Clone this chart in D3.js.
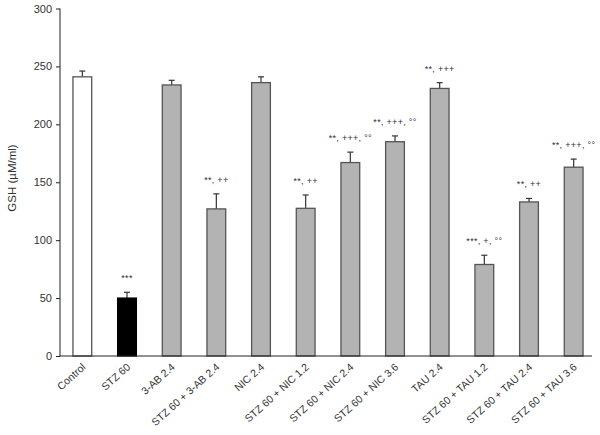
<!DOCTYPE html>
<html>
<head>
<meta charset="utf-8">
<script src="https://cdn.jsdelivr.net/npm/d3@7"></script>
<style>
  body { margin: 0; background: #fff; }
  text { font-family: "Liberation Sans", Arial, sans-serif; -webkit-font-smoothing: antialiased; }
</style>
</head>
<body>
<div id="chart"></div>
<script>
// Data
const groups = ['Control', 'STZ 60', '3-AB 2.4', 'STZ 60 + 3-AB 2.4', 'NIC 2.4',
    'STZ 60 + NIC 1.2', 'STZ 60 + NIC 2.4', 'STZ 60 + NIC 3.6', 'TAU 2.4',
    'STZ 60 + TAU 1.2', 'STZ 60 + TAU 2.4', 'STZ 60 + TAU 3.6'];
const gshMean = [241, 50, 234, 127, 236, 127.5, 167, 185, 231, 79, 133, 163];
const gshErr = [5, 5, 4, 13, 5, 11.5, 9, 5, 5, 8, 3, 7];
const signif = ['', '***', '', '**, ++', '', '**, ++', '**, +++, °°', '**, +++, °°',
    '**, +++', '***, +, °°', '**, ++', '**, +++, °°'];
const yTicks = [0, 50, 100, 150, 200, 250, 300];

const width = 600;
const height = 435;

const svg = d3.select('#chart')
    .append('svg')
    .attr('width', width)
    .attr('height', height);

// Scales
const x = d3.scaleBand()
    .domain(groups)
    .range([60, 596])
    .paddingInner(0.58)
    .paddingOuter(0.29);

const y = d3.scaleLinear()
    .domain([0, 300])
    .range([356, 8.5]);

function barFill(i) {
    if (i === 0) return '#ffffff';
    if (i === 1) return '#000000';
    return '#b3b3b3';
}

// Error bars (upper only)
const err = svg.append('g')
    .attr('stroke', '#333')
    .attr('stroke-width', 1.2);

groups.forEach((g, i) => {
    const cx = x(g) + x.bandwidth() / 2;
    err.append('line')
        .attr('x1', cx).attr('x2', cx)
        .attr('y1', y(gshMean[i])).attr('y2', y(gshMean[i] + gshErr[i]));
    err.append('line')
        .attr('x1', cx - 3).attr('x2', cx + 3)
        .attr('y1', y(gshMean[i] + gshErr[i])).attr('y2', y(gshMean[i] + gshErr[i]));
});

// Bars
svg.append('g')
    .selectAll('rect')
    .data(groups)
    .enter()
    .append('rect')
    .attr('x', d => x(d))
    .attr('y', (d, i) => y(gshMean[i]))
    .attr('width', x.bandwidth())
    .attr('height', (d, i) => y(0) - y(gshMean[i]))
    .attr('fill', (d, i) => barFill(i))
    .attr('stroke', (d, i) => i === 1 ? '#000' : '#555')
    .attr('stroke-width', 1.3);

// Significance marks
svg.append('g')
    .selectAll('text')
    .data(groups)
    .enter()
    .append('text')
    .attr('x', d => x(d) + x.bandwidth() / 2)
    .attr('y', (d, i) => y(gshMean[i] + gshErr[i]) - 11)
    .attr('text-anchor', 'middle')
    .style('font-size', '9px')
    .style('letter-spacing', '0.3px')
    .style('fill', '#2e3040')
    .text((d, i) => signif[i]);

// Y axis
const yAxis = d3.axisLeft(y)
    .tickValues(yTicks)
    .tickSize(4)
    .tickPadding(4);

const yg = svg.append('g')
    .attr('transform', 'translate(60,0)')
    .call(yAxis);
yg.selectAll('text').style('font-size', '11px').style('fill', '#333');
yg.selectAll('line, path').attr('stroke', '#222');
yg.select('.domain').attr('d', 'M-0,8.5V356');

// X axis
const xAxis = d3.axisBottom(x).tickSize(0).tickPadding(0);
const xg = svg.append('g')
    .attr('transform', 'translate(0,356)')
    .call(xAxis);
xg.select('.domain').attr('d', 'M60,0H592').attr('stroke', '#222');
xg.selectAll('text')
    .style('font-size', '10.5px')
    .style('fill', '#333')
    .attr('text-anchor', 'end')
    .attr('dy', null)
    .attr('y', 0)
    .attr('transform', 'translate(4,12) rotate(-42)');

// Y label
svg.append('text')
    .attr('transform', 'rotate(-90)')
    .attr('x', -178)
    .attr('y', 16)
    .attr('text-anchor', 'middle')
    .style('font-size', '11.5px')
    .style('fill', '#333')
    .text('GSH (µM/ml)');
</script>
</body>
</html>
